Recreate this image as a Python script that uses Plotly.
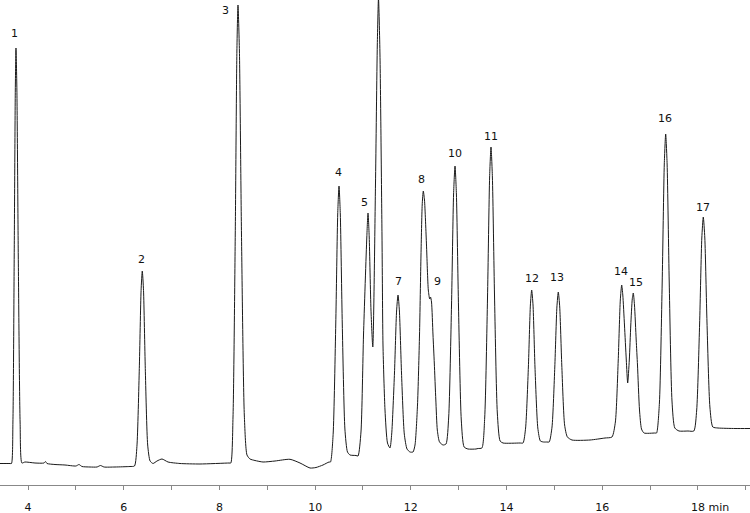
import plotly.graph_objects as go

# ---- chromatogram trace (time in min, detector response) ----
time_min = [
    3.415, 3.624, 3.655, 3.685, 3.712, 3.735, 3.749, 3.768, 3.797, 3.835, 3.873, 3.937, 4.146,
    4.334, 4.366, 4.397, 4.564, 4.773, 5.003, 5.066, 5.128, 5.296, 5.442, 5.515, 5.588, 5.818, 6.131,
    6.225, 6.276, 6.326, 6.363, 6.388, 6.414, 6.451, 6.501, 6.551, 6.612, 6.696, 6.800, 6.926, 7.176,
    7.594, 8.200,
    8.238, 8.284, 8.331, 8.365, 8.388, 8.418, 8.461, 8.520, 8.576, 8.639, 8.743, 8.911, 9.162, 9.475,
    9.684, 9.893, 10.018, 10.164, 10.290,
    10.321, 10.376, 10.431, 10.472, 10.499, 10.526, 10.567, 10.622, 10.676, 10.729, 10.854,
    10.896, 10.958, 11.011, 11.080, 11.105, 11.130, 11.167, 11.205, 11.261, 11.299, 11.324, 11.355,
    11.397, 11.418, 11.460, 11.512, 11.564,
    11.600, 11.658, 11.702, 11.732, 11.761, 11.805, 11.863, 11.920, 11.982, 12.045,
    12.087, 12.139, 12.181, 12.212, 12.237, 12.260, 12.285, 12.327, 12.365, 12.394, 12.411, 12.432,
    12.463, 12.490, 12.522, 12.553, 12.599, 12.672,
    12.735, 12.791, 12.850, 12.893, 12.923, 12.952, 12.996, 13.054, 13.113, 13.194, 13.361, 13.403,
    13.485, 13.543, 13.602, 13.646, 13.675, 13.704, 13.748, 13.807, 13.865, 13.926, 14.281,
    14.344, 14.398, 14.456, 14.498, 14.525, 14.553, 14.594, 14.653, 14.707, 14.772, 14.845,
    14.891, 14.950, 15.008, 15.052, 15.081, 15.111, 15.154, 15.213, 15.271, 15.367, 15.744, 16.057, 16.203,
    16.274, 16.333, 16.377, 16.406, 16.429, 16.464, 16.502, 16.531, 16.565, 16.596, 16.627, 16.648,
    16.673, 16.709, 16.736, 16.778, 16.820, 16.872, 17.102,
    17.135, 17.194, 17.252, 17.296, 17.325, 17.355, 17.399, 17.457, 17.516, 17.603, 17.791,
    17.913, 17.973, 18.034, 18.080, 18.111, 18.143, 18.188, 18.249, 18.310, 18.418, 18.774, 19.087,
]
signal = [
    21.5, 21.5, 21.5, 63, 229, 395, 437, 395, 229, 63, 22, 23, 22,
    22, 23.5, 21.5, 20.5, 20, 19, 20.5, 18.5, 18, 18, 19.5, 18, 18, 18.5,
    19, 38.5, 116.5, 194.5, 214, 194.5, 116.5, 40, 24, 21.5, 24, 26, 23, 21.5,
    21, 22,
    22, 68, 251, 434, 480, 434, 251, 70, 30, 26, 24.5, 23, 24, 25.7,
    22, 17, 17.5, 20, 23,
    23, 50.6, 161, 271, 299, 271, 161, 56, 33, 30, 29.5,
    29, 53, 150, 248, 272, 248, 175, 138, 300, 440, 487, 430,
    250, 140, 75, 42, 37,
    51, 112, 174, 190, 174, 112, 51, 36, 33, 33,
    40, 80, 150, 230, 280, 294, 285, 240, 195, 186, 188, 183,
    150, 122, 85, 55, 43, 40,
    41, 68, 180, 291, 319, 291, 178, 65, 38, 36, 36, 36.5,
    37, 67, 187, 308, 338, 308, 190, 72, 44, 42, 42,
    42, 57, 118, 180, 195, 180, 118, 57, 44, 43, 43,
    43, 58, 118, 178, 193, 178, 120, 60, 48, 45, 45, 47, 48,
    63, 124, 185, 200, 190, 160, 125, 102, 125, 160, 186, 192,
    180, 145, 120, 75, 56, 52, 52,
    52, 82, 202, 321, 351, 321, 203, 84, 57, 54, 54,
    54, 75, 161, 247, 268, 247, 163, 78, 58, 57, 56.5, 56.5,
]

# ---- peak table ----
peak_labels = [str(i) for i in range(1, 18)]
peak_rt = [3.749, 6.388, 8.388, 10.499, 11.105, 11.324, 11.732, 12.260, 12.411,
           12.923, 13.675, 14.525, 15.081, 16.406, 16.648, 17.325, 18.111]
peak_height = [437, 214, 480, 299, 272, 487, 190, 294, 188,
               319, 338, 195, 193, 200, 192, 351, 268]

# ---- axis ticks ----
tick_values = list(range(4, 20))
tick_labels = ["4", "", "6", "", "8", "", "10", "", "12", "", "14", "", "16", "", "18", ""]
axis_unit = "min"

# label offsets in pixels (dx, dy) relative to each apex
label_offsets = {
    "1": (-1.5, 15), "2": (-0.5, 12), "3": (-12, -5), "4": (-1, 14), "5": (-4, 10.5),
    "6": (-13, -9.5), "7": (0, 14), "8": (-1.5, 12), "9": (7, 16), "10": (0, 12.5),
    "11": (0, 11), "12": (0, 12), "13": (-1, 15), "14": (-1, 13.5), "15": (2.7, 11),
    "16": (-0.7, 15.5), "17": (0, 10),
}

FONT = "DejaVu Sans, Verdana, sans-serif"
NBSP = "&nbsp;"

# the last labelled tick carries the unit, padded on the left so the number stays centred
tick_text = list(tick_labels)
last = max(i for i, t in enumerate(tick_text) if t)
tick_text[last] = NBSP * 7 + tick_text[last] + NBSP + axis_unit

fig = go.Figure()
fig.add_trace(go.Scatter(
    x=time_min, y=signal, mode="lines",
    line=dict(color="#1a1a1a", width=1, shape="spline", smoothing=0.6),
    hoverinfo="skip", showlegend=False,
))

for lab, rt, h in zip(peak_labels, peak_rt, peak_height):
    dx, dy = label_offsets[lab]
    fig.add_annotation(
        x=rt, y=h, text=lab, showarrow=False,
        xanchor="center", yanchor="middle", xshift=dx, yshift=dy,
        font=dict(family=FONT, size=11, color="#111"),
    )

fig.update_layout(
    width=750, height=513, autosize=False,
    margin=dict(l=0, r=0, t=0, b=28, pad=0),
    paper_bgcolor="white", plot_bgcolor="white",
    showlegend=False,
    xaxis=dict(
        range=[3.415, 19.087], tickmode="array", tickvals=tick_values, ticktext=tick_text,
        ticks="outside", ticklen=4, tickcolor="#888", tickwidth=1,
        showline=True, linecolor="#888", linewidth=1,
        showgrid=False, zeroline=False,
        tickfont=dict(family=FONT, size=11, color="#111"),
        ticklabelstandoff=8,
    ),
    yaxis=dict(range=[0, 485], visible=False, showgrid=False, zeroline=False),
)

fig.write_html("out.html")
